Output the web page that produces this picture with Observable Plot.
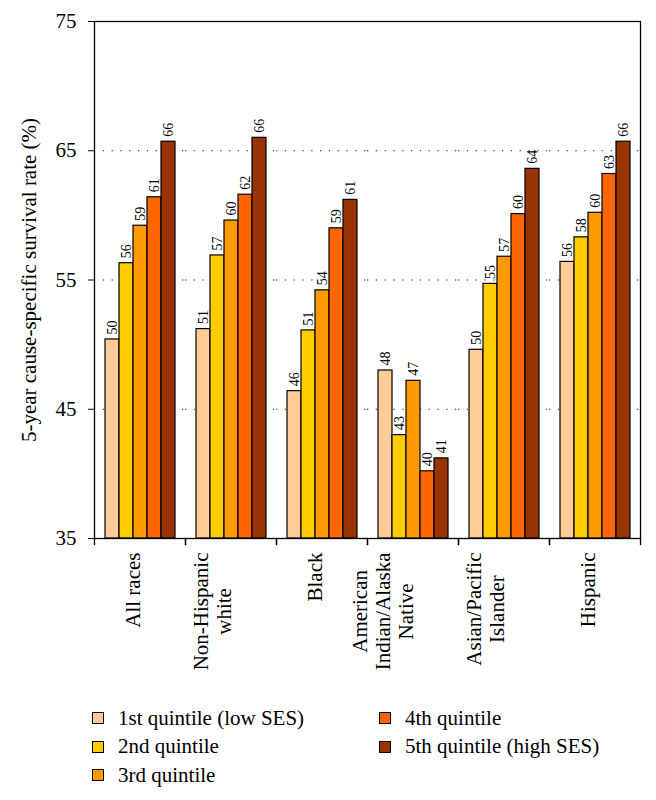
<!DOCTYPE html>
<html>
<head>
<meta charset="utf-8">
<script src="https://cdn.jsdelivr.net/npm/d3@7"></script>
<script src="https://cdn.jsdelivr.net/npm/@observablehq/plot@0.6"></script>
<style>
  body { margin: 0; background: #fff; font-family: "Liberation Serif", serif; }
  #legend {
    display: grid;
    grid-auto-flow: column;
    grid-template-rows: repeat(3, 28.5px);
    grid-template-columns: 287px 260px;
    align-items: center;
    margin-left: 92px;
    padding-top: 4px;
    font-size: 21px;
    color: #000;
  }
  .item { display: flex; align-items: center; white-space: nowrap; }
  .sw { width: 10px; height: 10px; border: 1px solid #000; margin-right: 14px; flex: none; }
</style>
</head>
<body>
<div id="chart"></div>
<div id="legend"></div>
<script>
// ---- data ----
const categories = ["All races", "Non-Hispanic white", "Black", "American Indian/Alaska Native", "Asian/Pacific Islander", "Hispanic"];
const categoryLabels = ["All races", "Non-Hispanic\nwhite", "Black", "American\nIndian/Alaska\nNative", "Asian/Pacific\nIslander", "Hispanic"];
const quintiles = ["1st quintile (low SES)", "2nd quintile", "3rd quintile", "4th quintile", "5th quintile (high SES)"];
const q1 = [50.4, 51.2, 46.4, 48.0, 49.6, 56.4];
const q2 = [56.3, 56.9, 51.1, 43.0, 54.7, 58.3];
const q3 = [59.2, 59.6, 54.2, 47.2, 56.8, 60.2];
const q4 = [61.4, 61.6, 59.0, 40.2, 60.1, 63.2];
const q5 = [65.7, 66.0, 61.2, 41.2, 63.6, 65.7];
const colors = ["#FFCC99", "#FFCC00", "#FF9900", "#FF6600", "#993300"];
const yDomain = [35, 75];
const yTicks = [35, 45, 55, 65, 75];
const gridTicks = [45, 55, 65];
const yLabel = "5-year cause-specific survival rate (%)";

// ---- build table ----
const series = [q1, q2, q3, q4, q5];
const table = [];
categories.forEach((c, i) => {
  quintiles.forEach((q, j) => table.push({cat: c, q, value: series[j][i]}));
});

// ---- layout ----
const W = 656, H = 700;
const mTop = 21, mRight = 15, mBottom = 162, mLeft = 92;
const plotH = H - mTop - mBottom;
const font = '"Liberation Serif", serif';
const labelSize = 21;

const ctx = document.createElement("canvas").getContext("2d");
ctx.font = `${labelSize}px "Liberation Serif"`;
const labelMarks = categories.map((c, i) => {
  const lines = categoryLabels[i].split("\n");
  const maxW = d3.max(lines, l => ctx.measureText(l).width);
  return Plot.text([c], {
    fx: d => d,
    text: () => categoryLabels[i],
    frameAnchor: "bottom",
    rotate: -90,
    textAnchor: "middle",
    lineHeight: 1.1,
    dy: 14 + maxW / 2,
    fontSize: labelSize,
    fill: "#000"
  });
});

const chart = Plot.plot({
  width: W,
  height: H,
  marginTop: mTop,
  marginRight: mRight,
  marginBottom: mBottom,
  marginLeft: mLeft,
  style: {fontFamily: font, fontSize: "21px", background: "#fff", color: "#000"},
  fx: {domain: categories, padding: 0, axis: null, label: null},
  x: {domain: quintiles, paddingInner: 0, paddingOuter: 0.75, axis: null},
  y: {domain: yDomain, axis: null},
  color: {domain: quintiles, range: colors},
  marks: [
    Plot.gridY(gridTicks, {stroke: "#222", strokeOpacity: 1, strokeWidth: 1.2, strokeDasharray: "1.3,7.5"}),
    Plot.barY(table, {fx: "cat", x: "q", y1: yDomain[0], y2: "value", fill: "q", stroke: "#000", strokeWidth: 1.2}),
    Plot.text(table, {fx: "cat", x: "q", y: "value", text: d => String(Math.round(d.value)), rotate: -90, textAnchor: "start", dy: -5, fontSize: 14, fill: "#000"}),
    Plot.frame({facet: "super", stroke: "#000", strokeWidth: 1.3}),
    Plot.frame({anchor: "left", insetTop: plotH, insetBottom: -6, stroke: "#000", strokeWidth: 1.3}),
    Plot.frame({anchor: "right", insetTop: plotH, insetBottom: -6, stroke: "#000", strokeWidth: 1.3}),
    Plot.axisY({
      ticks: yTicks, tickSize: 6, tickPadding: 12, fontSize: 21,
      label: yLabel, labelAnchor: "center", labelOffset: 73, labelArrow: "none",
      tickFormat: d => String(d)
    }),
    ...labelMarks
  ]
});
document.getElementById("chart").appendChild(chart);

// ---- legend ----
const legend = document.getElementById("legend");
quintiles.forEach((q, j) => {
  const it = document.createElement("div");
  it.className = "item";
  const sw = document.createElement("span");
  sw.className = "sw";
  sw.style.background = colors[j];
  const tx = document.createElement("span");
  tx.textContent = q;
  it.appendChild(sw);
  it.appendChild(tx);
  legend.appendChild(it);
});
</script>
</body>
</html>
